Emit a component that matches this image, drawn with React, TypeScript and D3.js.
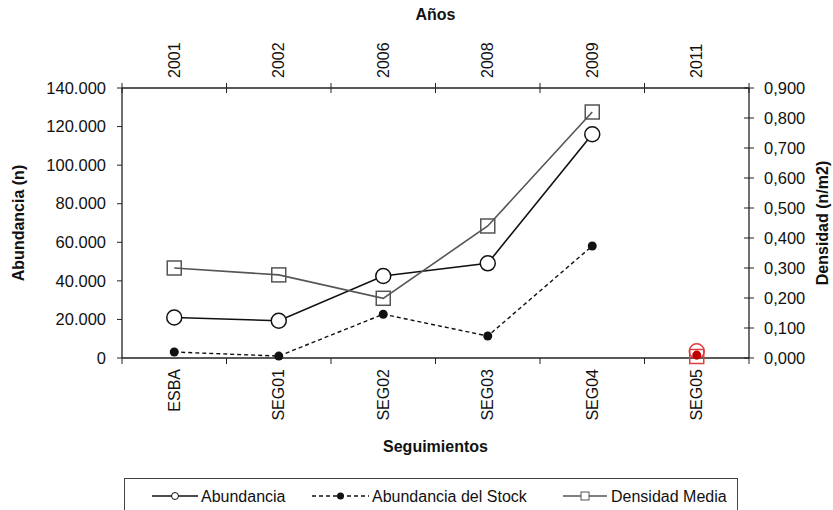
import React from "react";
import * as d3 from "d3";

const categories = ["ESBA", "SEG01", "SEG02", "SEG03", "SEG04", "SEG05"];
const years = ["2001", "2002", "2006", "2008", "2009", "2011"];
const abundancia = [21000, 19300, 42500, 49100, 116000, 3500];
const abundanciaStock = [3100, 1000, 22700, 11400, 58100, 1500];
const densidadMedia = [0.3, 0.277, 0.199, 0.44, 0.82, 0.005];
const connected = [true, true, true, true, true, false];
const leftTicks = [0, 20000, 40000, 60000, 80000, 100000, 120000, 140000];
const rightTicks = [0, 0.1, 0.2, 0.3, 0.4, 0.5, 0.6, 0.7, 0.8, 0.9];

const W = 833;
const H = 510;
const L = 122, R = 749, T = 88, B = 358;
const FONT = "'Liberation Sans', Arial, sans-serif";

const locale = d3.formatLocale({ decimal: ",", thousands: ".", grouping: [3], currency: ["", ""] });
const fmtL = locale.format(",");
const fmtR = locale.format(",.3f");

export default function App() {
  const x = d3.scaleBand<string>().domain(categories).range([L, R]).padding(0);
  const yL = d3.scaleLinear().domain([0, 140000]).range([B, T]);
  const yR = d3.scaleLinear().domain([0, 0.9]).range([B, T]);
  const cx = (i: number) => (x(categories[i]) as number) + x.bandwidth() / 2;

  const idx = categories.map((_, i) => i).filter((i) => connected[i]);
  const lineA = d3.line<number>().x((i) => cx(i)).y((i) => yL(abundancia[i]))(idx) as string;
  const lineS = d3.line<number>().x((i) => cx(i)).y((i) => yL(abundanciaStock[i]))(idx) as string;
  const lineD = d3.line<number>().x((i) => cx(i)).y((i) => yR(densidadMedia[i]))(idx) as string;

  const bounds = categories.map((c) => x(c) as number).concat([R]);
  const red = "#e03c3c";

  return (
    <svg width={W} height={H} style={{ position: "absolute", left: 0, top: 0, fontFamily: FONT }}>
      <rect x={0} y={0} width={W} height={H} fill="#fff" />
      {/* axes lines */}
      <line x1={L} y1={T} x2={L} y2={B} stroke="#222" strokeWidth={1.3} />
      <line x1={R} y1={T} x2={R} y2={B} stroke="#222" strokeWidth={1.3} />
      <line x1={L} y1={B} x2={R} y2={B} stroke="#222" strokeWidth={1.3} />
      <line x1={L} y1={T} x2={R} y2={T} stroke="#222" strokeWidth={1.3} />
      {/* left ticks */}
      {leftTicks.map((t) => (
        <g key={"l" + t}>
          <line x1={L - 5} x2={L} y1={yL(t)} y2={yL(t)} stroke="#222" />
          <text x={106} y={yL(t)} dy="0.35em" textAnchor="end" fontSize={16.5} fill="#111">{fmtL(t)}</text>
        </g>
      ))}
      {/* right ticks */}
      {rightTicks.map((t) => (
        <g key={"r" + t}>
          <line x1={R - 5} x2={R + 5} y1={yR(t)} y2={yR(t)} stroke="#222" />
          <text x={764} y={yR(t)} dy="0.35em" textAnchor="start" fontSize={16.5} fill="#111">{fmtR(t)}</text>
        </g>
      ))}
      {/* category ticks */}
      {bounds.map((b, i) => (
        <g key={"b" + i}>
          <line x1={b} x2={b} y1={B} y2={B + 6} stroke="#222" />
          <line x1={b} x2={b} y1={T - 5} y2={T + 5} stroke="#222" />
        </g>
      ))}
      {categories.map((c, i) => (
        <text key={c} transform={`translate(${cx(i)},${369}) rotate(-90)`} dy="0.35em" textAnchor="end" fontSize={16} fill="#111">{c}</text>
      ))}
      {years.map((yv, i) => (
        <text key={yv} transform={`translate(${cx(i)},${78}) rotate(-90)`} dy="0.35em" textAnchor="start" fontSize={16} fill="#111">{yv}</text>
      ))}
      {/* titles */}
      <text x={(L + R) / 2} y={452} textAnchor="middle" fontSize={16} fontWeight="bold" fill="#111">Seguimientos</text>
      <text x={(L + R) / 2} y={20} textAnchor="middle" fontSize={16} fontWeight="bold" fill="#111">Años</text>
      <text transform={`translate(24,${(T + B) / 2}) rotate(-90)`} textAnchor="middle" fontSize={16} fontWeight="bold" fill="#111">Abundancia (n)</text>
      <text transform={`translate(828,${(T + B) / 2}) rotate(-90)`} textAnchor="middle" fontSize={16} fontWeight="bold" fill="#111">Densidad (n/m2)</text>

      {/* series lines */}
      <path d={lineS} fill="none" stroke="#111" strokeWidth={1.4} strokeDasharray="4,3" />
      <path d={lineA} fill="none" stroke="#111" strokeWidth={1.6} />
      <path d={lineD} fill="none" stroke="#555" strokeWidth={1.6} />
      {/* markers */}
      {categories.map((c, i) => (
        <g key={"m" + c}>
          <circle cx={cx(i)} cy={yL(abundancia[i])} r={7.5} fill={connected[i] ? "#fff" : "none"} stroke={connected[i] ? "#111" : red} strokeWidth={1.5} />
          <rect x={cx(i) - 7} y={yR(densidadMedia[i]) - 7} width={14} height={14} fill="none" stroke={connected[i] ? "#555" : red} strokeWidth={1.5} />
          <circle cx={cx(i)} cy={yL(abundanciaStock[i])} r={4.5} fill={connected[i] ? "#111" : "#c00000"} />
        </g>
      ))}

      {/* legend */}
      <rect x={124.5} y={478.5} width={613} height={40} fill="#fff" stroke="#444" strokeWidth={1} />
      <g>
        <line x1={152} x2={198} y1={496} y2={496} stroke="#111" strokeWidth={1.3} />
        <circle cx={175} cy={496} r={3.5} fill="#fff" stroke="#111" strokeWidth={1} />
        <text x={201} y={496} dy="0.35em" fontSize={16} fill="#111">Abundancia</text>
        <line x1={312} x2={369} y1={496} y2={496} stroke="#111" strokeWidth={1.3} strokeDasharray="4,3" />
        <circle cx={340.5} cy={496} r={3.5} fill="#111" />
        <text x={372} y={496} dy="0.35em" fontSize={16} fill="#111">Abundancia del Stock</text>
        <line x1={563} x2={607} y1={496} y2={496} stroke="#555" strokeWidth={1.3} />
        <rect x={581} y={492} width={8} height={8} fill="#fff" stroke="#555" strokeWidth={1} />
        <text x={611} y={496} dy="0.35em" fontSize={16} fill="#111">Densidad Media</text>
      </g>
    </svg>
  );
}
